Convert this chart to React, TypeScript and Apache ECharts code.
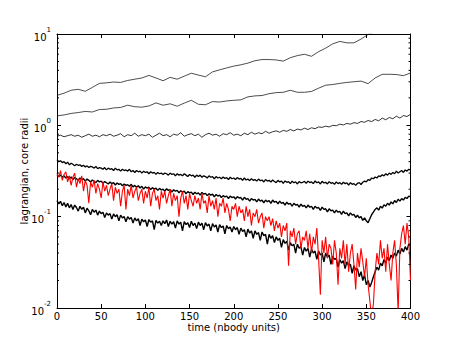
import React, { useEffect, useRef } from "react";
import * as echarts from "echarts";

const FONT = "DejaVu Sans";

const T2 = [
  0,2,4,6,8,10,12,14,16,18,20,22,24,26,28,30,32,34,36,38,
  40,42,44,46,48,50,52,54,56,58,60,62,64,66,68,70,72,74,76,78,
  80,82,84,86,88,90,92,94,96,98,100,102,104,106,108,110,112,114,116,118,
  120,122,124,126,128,130,132,134,136,138,140,142,144,146,148,150,152,154,156,158,
  160,162,164,166,168,170,172,174,176,178,180,182,184,186,188,190,192,194,196,198,
  200,202,204,206,208,210,212,214,216,218,220,222,224,226,228,230,232,234,236,238,
  240,242,244,246,248,250,252,254,256,258,260,262,264,266,268,270,272,274,276,278,
  280,282,284,286,288,290,292,294,296,298,300,302,304,306,308,310,312,314,316,318,
  320,322,324,326,328,330,332,334,336,338,340,342,344,346,348,350,352,354,356,358,
  360,362,364,366,368,370,372,374,376,378,380,382,384,386,388,390,392,394,396,398,
  400];
const T4 = [0,4,8,12,16,20,24,28,32,36,40,44,48,52,56,60,64,68,72,76,80,84,88,92,96,100,104,108,112,116,120,124,128,132,136,140,144,148,152,156,160,164,168,172,176,180,184,188,192,196,200,204,208,212,216,220,224,228,232,236,240,244,248,252,256,260,264,268,272,276,280,284,288,292,296,300,304,308,312,316,320,324,328,332,336,340,344,348,352,356,360,364,368,372,376,380,384,388,392,396,400];
const T8 = [0,8,16,24,32,40,48,56,64,72,80,88,96,104,112,120,128,136,144,152,160,168,176,184,192,200,208,216,224,232,240,248,256,264,272,280,288,296,304,312,320,328,336,344,352,360,368,376,384,392,400];

const lineA = [2.13,2.25,2.42,2.48,2.36,2.6,2.88,2.92,2.98,2.95,3.1,3.2,3.3,3.52,3.3,3.08,3.35,3.2,3.45,3.72,3.55,3.4,3.85,4.05,4.25,4.45,4.6,4.8,5.1,5.25,5.25,5.2,5.05,5.5,5.8,6.0,5.7,6.4,7.0,7.8,8.3,8.0,8.0,8.8,9.9,10.6,11.3,11.8,12.5,13.2,13.8];
const lineB = [1.27,1.3,1.35,1.38,1.42,1.4,1.49,1.5,1.55,1.57,1.66,1.6,1.58,1.63,1.76,1.66,1.72,1.62,1.75,1.88,1.7,1.68,1.82,1.8,1.85,1.88,1.9,2.05,2.1,2.12,2.22,2.28,2.3,2.42,2.3,2.3,2.35,2.55,2.75,2.8,2.88,2.95,3.0,3.05,2.86,3.3,3.62,3.62,3.6,3.5,3.74];
const lineC = [0.76,0.78,0.75,0.77,0.79,0.76,0.78,0.74,0.77,0.8,0.76,0.78,0.75,0.79,0.77,0.8,0.76,0.78,0.81,0.75,0.79,0.77,0.82,0.76,0.79,0.77,
  0.8,0.74,0.78,0.82,0.77,0.79,0.75,0.8,0.78,0.83,0.76,0.79,0.81,0.77,0.8,0.74,0.79,0.82,0.78,0.8,0.76,0.81,0.79,0.83,0.78,
  0.8,0.77,0.82,0.79,0.84,0.8,0.83,0.81,0.86,0.82,0.85,0.87,0.84,0.88,0.86,0.9,0.87,0.91,0.89,0.93,0.9,0.94,0.92,0.96,0.95,
  0.98,0.96,1.0,0.99,1.03,1.01,1.05,1.03,1.07,1.05,1.1,1.08,1.13,1.1,1.16,1.12,1.2,1.15,1.22,1.18,1.26,1.2,1.28,1.25,1.32];

const lineD = [
  0.42,0.4,0.41,0.39,0.4,0.38,0.395,0.37,0.385,0.375,0.36,0.375,0.365,0.37,0.355,0.365,0.35,0.36,0.345,0.355,
  0.35,0.34,0.355,0.335,0.345,0.34,0.33,0.345,0.325,0.34,0.33,0.335,0.32,0.34,0.325,0.33,0.315,0.33,0.32,0.325,
  0.315,0.33,0.31,0.32,0.305,0.32,0.31,0.315,0.3,0.315,0.305,0.31,0.295,0.31,0.3,0.305,0.29,0.305,0.295,0.3,
  0.29,0.3,0.295,0.285,0.3,0.29,0.295,0.28,0.295,0.285,0.29,0.28,0.295,0.285,0.275,0.29,0.28,0.285,0.27,0.285,
  0.275,0.285,0.27,0.28,0.275,0.265,0.28,0.27,0.275,0.26,0.275,0.265,0.27,0.26,0.272,0.262,0.268,0.255,0.27,0.26,
  0.265,0.255,0.268,0.258,0.262,0.25,0.265,0.252,0.258,0.248,0.26,0.25,0.255,0.245,0.258,0.248,0.252,0.24,0.255,0.245,
  0.25,0.24,0.252,0.243,0.236,0.25,0.24,0.245,0.232,0.246,0.238,0.242,0.23,0.245,0.235,0.24,0.228,0.242,0.235,0.238,
  0.243,0.232,0.245,0.236,0.24,0.23,0.246,0.235,0.24,0.228,0.244,0.234,0.238,0.228,0.242,0.232,0.236,0.226,0.24,0.23,
  0.236,0.226,0.238,0.23,0.234,0.222,0.236,0.226,0.23,0.22,0.232,0.236,0.225,0.238,0.245,0.24,0.255,0.25,0.265,0.26,
  0.272,0.265,0.28,0.275,0.288,0.28,0.295,0.285,0.3,0.29,0.305,0.295,0.315,0.3,0.31,0.32,0.305,0.325,0.315,0.33,
  0.325];
const lineE = [
  0.29,0.275,0.285,0.27,0.28,0.265,0.275,0.26,0.272,0.255,0.268,0.26,0.25,0.265,0.255,0.26,0.245,0.258,0.25,0.24,
  0.252,0.244,0.236,0.25,0.24,0.245,0.232,0.242,0.235,0.228,0.24,0.23,0.236,0.222,0.234,0.226,0.23,0.218,0.228,0.22,
  0.224,0.215,0.226,0.212,0.22,0.21,0.218,0.206,0.215,0.2,0.212,0.205,0.21,0.198,0.208,0.2,0.205,0.194,0.204,0.196,
  0.2,0.19,0.202,0.194,0.198,0.186,0.197,0.19,0.194,0.182,0.192,0.186,0.19,0.178,0.188,0.182,0.186,0.175,0.185,0.178,
  0.182,0.172,0.184,0.176,0.18,0.17,0.178,0.172,0.176,0.165,0.175,0.168,0.172,0.162,0.17,0.165,0.168,0.158,0.168,0.162,
  0.165,0.156,0.166,0.16,0.162,0.152,0.163,0.155,0.158,0.148,0.158,0.152,0.155,0.145,0.156,0.148,0.152,0.142,0.152,0.146,
  0.15,0.14,0.152,0.144,0.147,0.138,0.148,0.14,0.143,0.134,0.144,0.137,0.14,0.13,0.14,0.134,0.136,0.127,0.137,0.13,
  0.133,0.125,0.134,0.127,0.13,0.12,0.13,0.124,0.126,0.117,0.127,0.12,0.122,0.113,0.122,0.116,0.118,0.11,0.118,0.112,
  0.114,0.106,0.115,0.108,0.11,0.102,0.11,0.104,0.106,0.098,0.104,0.097,0.1,0.091,0.097,0.09,0.086,0.095,0.105,0.112,
  0.12,0.125,0.118,0.13,0.124,0.135,0.13,0.14,0.134,0.145,0.138,0.15,0.143,0.155,0.148,0.158,0.152,0.163,0.158,0.168,
  0.165];
const lineF = [
  0.15,0.138,0.147,0.132,0.143,0.128,0.14,0.125,0.136,0.12,0.134,0.126,0.115,0.13,0.12,0.127,0.11,0.124,0.116,0.105,
  0.12,0.112,0.118,0.104,0.115,0.108,0.112,0.098,0.11,0.104,0.108,0.094,0.107,0.1,0.105,0.09,0.104,0.097,0.1,0.088,
  0.1,0.094,0.098,0.085,0.097,0.09,0.095,0.08,0.094,0.088,0.092,0.078,0.093,0.087,0.09,0.072,0.091,0.085,0.089,0.08,
  0.09,0.084,0.092,0.078,0.089,0.083,0.088,0.075,0.09,0.083,0.087,0.07,0.088,0.082,0.086,0.076,0.089,0.08,0.085,0.074,
  0.087,0.08,0.085,0.072,0.086,0.079,0.083,0.07,0.084,0.077,0.081,0.068,0.082,0.076,0.079,0.065,0.08,0.074,0.077,0.068,
  0.078,0.072,0.076,0.064,0.075,0.069,0.072,0.06,0.073,0.066,0.07,0.058,0.07,0.064,0.067,0.055,0.068,0.062,0.064,0.05,
  0.064,0.058,0.062,0.052,0.06,0.055,0.058,0.046,0.056,0.051,0.054,0.043,0.052,0.048,0.05,0.04,0.05,0.045,0.047,0.038,
  0.046,0.042,0.045,0.036,0.044,0.04,0.042,0.034,0.042,0.038,0.04,0.032,0.04,0.036,0.038,0.03,0.037,0.034,0.035,0.028,
  0.034,0.031,0.033,0.027,0.032,0.029,0.03,0.024,0.029,0.026,0.027,0.022,0.025,0.02,0.023,0.018,0.02,0.017,0.019,0.022,
  0.025,0.028,0.026,0.031,0.029,0.034,0.031,0.036,0.033,0.038,0.035,0.04,0.037,0.043,0.039,0.045,0.041,0.047,0.043,0.05,
  0.048];
const lineRed = [
  0.3,0.27,0.32,0.25,0.29,0.31,0.24,0.28,0.22,0.27,0.3,0.21,0.26,0.23,0.28,0.19,0.25,0.22,0.14,0.24,
  0.21,0.25,0.18,0.23,0.2,0.16,0.24,0.19,0.22,0.17,0.2,0.23,0.15,0.21,0.18,0.2,0.13,0.19,0.22,0.12,
  0.2,0.17,0.22,0.16,0.19,0.21,0.15,0.18,0.2,0.14,0.19,0.16,0.21,0.13,0.18,0.2,0.15,0.17,0.12,0.19,
  0.16,0.19,0.14,0.17,0.2,0.13,0.18,0.15,0.17,0.1,0.16,0.19,0.14,0.17,0.12,0.18,0.15,0.13,0.17,0.14,
  0.16,0.12,0.18,0.14,0.15,0.11,0.17,0.13,0.15,0.12,0.16,0.1,0.14,0.13,0.16,0.11,0.14,0.12,0.09,0.13,
  0.12,0.14,0.1,0.13,0.11,0.12,0.09,0.13,0.1,0.12,0.08,0.11,0.1,0.12,0.085,0.1,0.11,0.075,0.1,0.09,
  0.1,0.08,0.095,0.07,0.09,0.075,0.085,0.06,0.08,0.07,0.085,0.029,0.07,0.06,0.075,0.05,0.065,0.07,0.045,0.06,
  0.055,0.07,0.045,0.065,0.04,0.06,0.05,0.075,0.035,0.014,0.055,0.04,0.06,0.035,0.05,0.045,0.03,0.055,0.04,0.018,
  0.045,0.035,0.055,0.03,0.05,0.025,0.04,0.05,0.03,0.016,0.04,0.028,0.045,0.032,0.022,0.035,0.018,0.012,0.008,0.011,
  0.025,0.04,0.03,0.055,0.035,0.045,0.025,0.05,0.03,0.02,0.04,0.055,0.03,0.009,0.045,0.065,0.08,0.05,0.085,0.06,
  0.02];

const yMinor = [0.02,0.03,0.04,0.05,0.06,0.07,0.08,0.09,0.2,0.3,0.4,0.5,0.6,0.7,0.8,0.9,2,3,4,5,6,7,8,9];

const X_MIN = 0, X_MAX = 400, X_STEP = 50;
const Y_MIN = 0.01, Y_MAX = 10;

const pair = (ts: number[], vs: number[]) => ts.map((t, i) => [t, vs[i]]);

export default function App() {
  const ref = useRef<HTMLDivElement>(null);
  useEffect(() => {
    if (!ref.current) return;
    const chart = echarts.init(ref.current, null, { renderer: "svg" });
    const black = (name: string, ts: number[], vs: number[], w: number) => ({
      name, type: "line", data: pair(ts, vs), showSymbol: false, symbol: "none",
      lineStyle: { color: "#000", width: w }, itemStyle: { color: "#000" }, clip: true, z: 2,
    });
    const tickLabel = { fontFamily: FONT, fontSize: 10, color: "#000" };
    chart.setOption({
      animation: false,
      backgroundColor: "#fff",
      grid: { left: 57, right: 46.5, top: 34, bottom: 35, containLabel: false },
      xAxis: [
        {
          type: "value", min: X_MIN, max: X_MAX, interval: X_STEP, position: "bottom",
          name: "time (nbody units)", nameLocation: "middle", nameGap: 14.5, nameMoveOverlap: false,
          nameTextStyle: { fontFamily: FONT, fontSize: 10, color: "#000" },
          axisLine: { show: true, onZero: false, lineStyle: { color: "#000", width: 1 } },
          axisTick: { show: true, inside: true, length: 4, lineStyle: { color: "#000" } },
          axisLabel: { ...tickLabel, margin: 3 },
          splitLine: { show: false },
        },
        {
          type: "value", min: X_MIN, max: X_MAX, interval: X_STEP, position: "top",
          axisLine: { show: true, onZero: false, lineStyle: { color: "#000", width: 1 } },
          axisTick: { show: true, inside: true, length: 4, lineStyle: { color: "#000" } },
          axisLabel: { show: false }, splitLine: { show: false },
        },
      ],
      yAxis: [
        {
          type: "log", logBase: 10, min: Y_MIN, max: Y_MAX, position: "left",
          name: "lagrangian, core radii", nameLocation: "middle", nameGap: 28, nameMoveOverlap: false,
          nameTextStyle: { fontFamily: FONT, fontSize: 10, color: "#000" },
          axisLine: { show: true, onZero: false, lineStyle: { color: "#000", width: 1 } },
          axisTick: { show: true, inside: true, length: 4, lineStyle: { color: "#000" } },
          axisLabel: {
            margin: 6,
            formatter: (v: number) => `{b|10}{s|${Math.round(Math.log10(v))}}`,
            rich: {
              b: { fontFamily: FONT, fontSize: 10, color: "#000", lineHeight: 16, verticalAlign: "bottom" },
              s: { fontFamily: FONT, fontSize: 7, color: "#000", lineHeight: 16, verticalAlign: "top" },
            },
          },
          splitLine: { show: false },
        },
        {
          type: "log", logBase: 10, min: Y_MIN, max: Y_MAX, position: "right",
          axisLine: { show: true, onZero: false, lineStyle: { color: "#000", width: 1 } },
          axisTick: { show: true, inside: true, length: 4, lineStyle: { color: "#000" } },
          axisLabel: { show: false }, splitLine: { show: false },
        },
      ],
      series: [
        black("r1", T8, lineA, 0.7),
        black("r2", T8, lineB, 0.7),
        black("r3", T4, lineC, 0.8),
        black("r4", T2, lineD, 1.3),
        black("r5", T2, lineE, 1.4),
        black("r6", T2, lineF, 1.4),
        {
          name: "core", type: "line", data: pair(T2, lineRed), showSymbol: false, symbol: "none",
          lineStyle: { color: "#ff0000", width: 1.1 }, itemStyle: { color: "#ff0000" }, clip: true, z: 3,
        },
        {
          name: "minor", type: "custom", clip: false, silent: true, z: 5,
          data: yMinor.map((v) => [X_MIN, v]),
          renderItem: (_p: any, api: any) => {
            const a = api.coord([X_MIN, api.value(1)]);
            const b = api.coord([X_MAX, api.value(1)]);
            return {
              type: "group",
              children: [
                { type: "line", shape: { x1: a[0], y1: a[1], x2: a[0] + 2, y2: a[1] }, style: { stroke: "#000", lineWidth: 1 } },
                { type: "line", shape: { x1: b[0] - 2, y1: b[1], x2: b[0], y2: b[1] }, style: { stroke: "#000", lineWidth: 1 } },
              ],
            };
          },
        },
      ],
    });
    return () => chart.dispose();
  }, []);
  return <div ref={ref} style={{ position: "fixed", left: 0, top: 0, width: 457, height: 343, background: "#fff" }} />;
}
